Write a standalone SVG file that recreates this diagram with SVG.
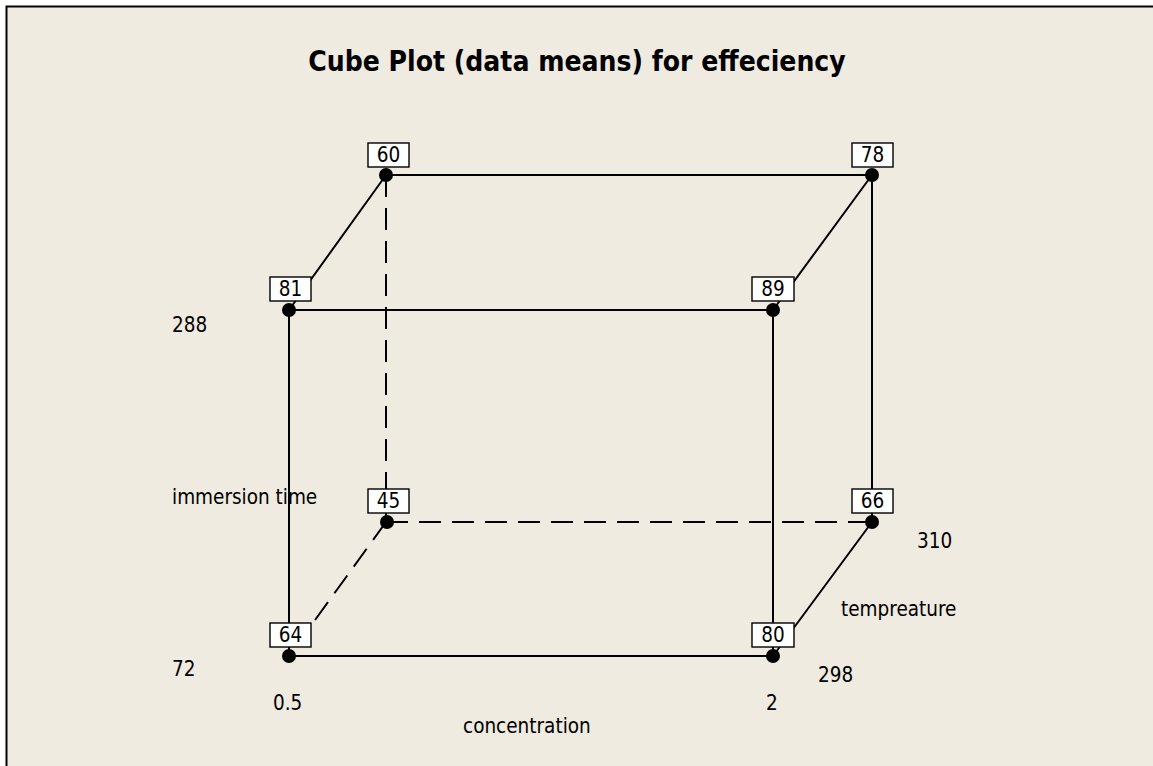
<svg xmlns="http://www.w3.org/2000/svg" width="1153" height="766" viewBox="0 0 1153 766">
  <style>
    .lbl { font-family: "DejaVu Sans", Verdana, sans-serif; font-stretch: condensed; font-size: 20.5px; fill: #000; }
    .title { font-family: "DejaVu Sans", Verdana, sans-serif; font-stretch: condensed; font-weight: bold; font-size: 28px; fill: #000; }
    .edge { stroke: #000; stroke-width: 2; fill: none; }
    .hidden { stroke-dasharray: 22 11; }
    .box { fill: #fff; stroke: #000; stroke-width: 1.4; }
    .val { font-family: "DejaVu Sans", Verdana, sans-serif; font-stretch: condensed; font-size: 20.5px; text-anchor: middle; fill: #000; }
    .dot { fill: #000; }
  </style>
  <rect x="0" y="0" width="1153" height="766" fill="#fff"/>
  <rect x="6" y="6" width="1147" height="760" fill="#EFEBE1"/>
  <path d="M6.5 766 V6.5 H1153" stroke="#000" stroke-width="2" fill="none"/>

  <text class="title" x="577" y="71" text-anchor="middle">Cube Plot (data means) for effeciency</text>

  <!-- cube edges -->
  <g id="connectors">
    <line class="edge" x1="386" y1="175" x2="872" y2="175"/>
    <line class="edge" x1="386" y1="175" x2="289" y2="310"/>
    <line class="edge" x1="872" y1="175" x2="773" y2="310"/>
    <line class="edge" x1="289" y1="310" x2="773" y2="310"/>
    <line class="edge" x1="289" y1="310" x2="289" y2="656"/>
    <line class="edge" x1="773" y1="310" x2="773" y2="656"/>
    <line class="edge" x1="872" y1="175" x2="872" y2="522"/>
    <line class="edge" x1="872" y1="522" x2="773" y2="656"/>
    <line class="edge" x1="289" y1="656" x2="773" y2="656"/>
    <line class="edge hidden" x1="386" y1="175" x2="386" y2="522"/>
    <line class="edge hidden" x1="386" y1="522" x2="872" y2="522"/>
    <line class="edge hidden" x1="386" y1="522" x2="289" y2="656"/>
  </g>

  <!-- corner means -->
  <g id="n60"><circle class="dot" cx="386" cy="175" r="7"/><rect class="box" x="368" y="143" width="41" height="24"/><text class="val" x="388.5" y="162">60</text></g>
  <g id="n78"><circle class="dot" cx="872" cy="175" r="7"/><rect class="box" x="852" y="143" width="41" height="24"/><text class="val" x="872.5" y="162">78</text></g>
  <g id="n81"><circle class="dot" cx="289" cy="310" r="7"/><rect class="box" x="270" y="277" width="41" height="24"/><text class="val" x="290.5" y="296">81</text></g>
  <g id="n89"><circle class="dot" cx="773" cy="310" r="7"/><rect class="box" x="752" y="277" width="42" height="24"/><text class="val" x="773" y="296">89</text></g>
  <g id="n45"><circle class="dot" cx="387" cy="522" r="7"/><rect class="box" x="368" y="489" width="41" height="24"/><text class="val" x="388.5" y="508">45</text></g>
  <g id="n66"><circle class="dot" cx="872" cy="522" r="7"/><rect class="box" x="852" y="489" width="41" height="24"/><text class="val" x="872.5" y="508">66</text></g>
  <g id="n64"><circle class="dot" cx="289" cy="656" r="7"/><rect class="box" x="270" y="623" width="41" height="24"/><text class="val" x="290.5" y="642">64</text></g>
  <g id="n80"><circle class="dot" cx="773" cy="656" r="7"/><rect class="box" x="752" y="623" width="42" height="24"/><text class="val" x="773" y="642">80</text></g>

  <!-- factor levels and names -->
  <g id="axes">
    <text class="lbl" x="172" y="332">288</text>
    <text class="lbl" x="172" y="504">immersion time</text>
    <text class="lbl" x="172" y="676">72</text>
    <text class="lbl" x="273" y="710">0.5</text>
    <text class="lbl" x="463" y="733">concentration</text>
    <text class="lbl" x="766" y="710">2</text>
    <text class="lbl" x="818" y="682">298</text>
    <text class="lbl" x="841" y="616">tempreature</text>
    <text class="lbl" x="917" y="548">310</text>
  </g>
</svg>
